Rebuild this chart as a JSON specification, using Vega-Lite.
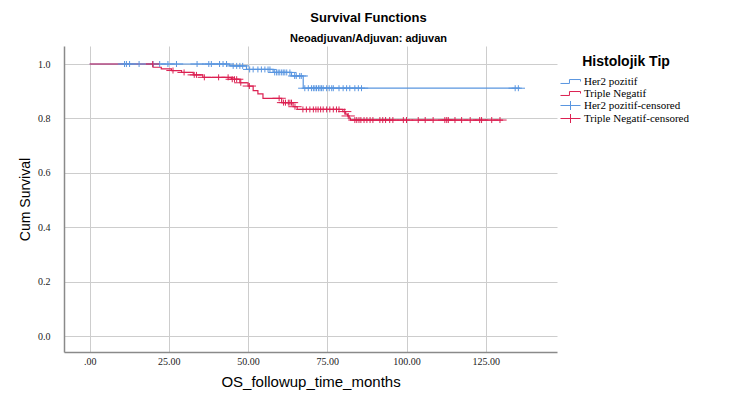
{
  "$schema": "https://vega.github.io/schema/vega-lite/v6.json",
  "width": 493,
  "height": 306,
  "autosize": "none",
  "padding": {"left": 64, "top": 46, "right": 174, "bottom": 51},
  "background": "white",
  "title": {
    "text": "Survival Functions",
    "subtitle": "Neoadjuvan/Adjuvan: adjuvan",
    "anchor": "middle",
    "frame": "group",
    "dx": 58,
    "offset": 2,
    "font": "Liberation Sans",
    "fontSize": 13,
    "fontWeight": "bold",
    "color": "black",
    "subtitleFont": "Liberation Sans",
    "subtitleFontSize": 11,
    "subtitleFontWeight": "bold",
    "subtitleColor": "black",
    "subtitlePadding": 8
  },
  "datasets": {
    "curve": [
      {"grp": "Her2 pozitif", "t": 0, "s": 1.0},
      {"grp": "Her2 pozitif", "t": 44.2, "s": 0.993},
      {"grp": "Her2 pozitif", "t": 49.5, "s": 0.980},
      {"grp": "Her2 pozitif", "t": 57.9, "s": 0.969},
      {"grp": "Her2 pozitif", "t": 63.7, "s": 0.956},
      {"grp": "Her2 pozitif", "t": 67.4, "s": 0.911},
      {"grp": "Her2 pozitif", "t": 135.8, "s": 0.911},
      {"grp": "Triple Negatif", "t": 0, "s": 1.0},
      {"grp": "Triple Negatif", "t": 20.0, "s": 0.988},
      {"grp": "Triple Negatif", "t": 22.6, "s": 0.982},
      {"grp": "Triple Negatif", "t": 25.8, "s": 0.976},
      {"grp": "Triple Negatif", "t": 29.0, "s": 0.969},
      {"grp": "Triple Negatif", "t": 32.7, "s": 0.960},
      {"grp": "Triple Negatif", "t": 35.7, "s": 0.951},
      {"grp": "Triple Negatif", "t": 44.8, "s": 0.944},
      {"grp": "Triple Negatif", "t": 47.4, "s": 0.931},
      {"grp": "Triple Negatif", "t": 50.0, "s": 0.919},
      {"grp": "Triple Negatif", "t": 51.6, "s": 0.902},
      {"grp": "Triple Negatif", "t": 53.1, "s": 0.890},
      {"grp": "Triple Negatif", "t": 54.7, "s": 0.874},
      {"grp": "Triple Negatif", "t": 60.6, "s": 0.858},
      {"grp": "Triple Negatif", "t": 64.2, "s": 0.843},
      {"grp": "Triple Negatif", "t": 65.5, "s": 0.833},
      {"grp": "Triple Negatif", "t": 79.9, "s": 0.825},
      {"grp": "Triple Negatif", "t": 80.8, "s": 0.816},
      {"grp": "Triple Negatif", "t": 81.4, "s": 0.809},
      {"grp": "Triple Negatif", "t": 81.9, "s": 0.801},
      {"grp": "Triple Negatif", "t": 82.3, "s": 0.794},
      {"grp": "Triple Negatif", "t": 130.5, "s": 0.794}
    ],
    "cens": [
      {"grp": "Her2 pozitif-censored", "t": 11.0, "s": 1.0},
      {"grp": "Her2 pozitif-censored", "t": 11.6, "s": 1.0},
      {"grp": "Her2 pozitif-censored", "t": 12.6, "s": 1.0},
      {"grp": "Her2 pozitif-censored", "t": 15.6, "s": 1.0},
      {"grp": "Her2 pozitif-censored", "t": 20.0, "s": 1.0},
      {"grp": "Her2 pozitif-censored", "t": 22.1, "s": 1.0},
      {"grp": "Her2 pozitif-censored", "t": 24.7, "s": 1.0},
      {"grp": "Her2 pozitif-censored", "t": 27.4, "s": 1.0},
      {"grp": "Her2 pozitif-censored", "t": 33.9, "s": 1.0},
      {"grp": "Her2 pozitif-censored", "t": 37.6, "s": 1.0},
      {"grp": "Her2 pozitif-censored", "t": 38.4, "s": 1.0},
      {"grp": "Her2 pozitif-censored", "t": 41.0, "s": 1.0},
      {"grp": "Her2 pozitif-censored", "t": 42.1, "s": 1.0},
      {"grp": "Her2 pozitif-censored", "t": 43.2, "s": 1.0},
      {"grp": "Her2 pozitif-censored", "t": 45.3, "s": 0.993},
      {"grp": "Her2 pozitif-censored", "t": 46.4, "s": 0.993},
      {"grp": "Her2 pozitif-censored", "t": 47.4, "s": 0.993},
      {"grp": "Her2 pozitif-censored", "t": 48.3, "s": 0.993},
      {"grp": "Her2 pozitif-censored", "t": 50.5, "s": 0.980},
      {"grp": "Her2 pozitif-censored", "t": 51.6, "s": 0.980},
      {"grp": "Her2 pozitif-censored", "t": 53.1, "s": 0.980},
      {"grp": "Her2 pozitif-censored", "t": 54.2, "s": 0.980},
      {"grp": "Her2 pozitif-censored", "t": 55.3, "s": 0.980},
      {"grp": "Her2 pozitif-censored", "t": 56.3, "s": 0.980},
      {"grp": "Her2 pozitif-censored", "t": 56.9, "s": 0.980},
      {"grp": "Her2 pozitif-censored", "t": 58.4, "s": 0.969},
      {"grp": "Her2 pozitif-censored", "t": 59.0, "s": 0.969},
      {"grp": "Her2 pozitif-censored", "t": 59.5, "s": 0.969},
      {"grp": "Her2 pozitif-censored", "t": 60.0, "s": 0.969},
      {"grp": "Her2 pozitif-censored", "t": 60.6, "s": 0.969},
      {"grp": "Her2 pozitif-censored", "t": 61.1, "s": 0.969},
      {"grp": "Her2 pozitif-censored", "t": 61.6, "s": 0.969},
      {"grp": "Her2 pozitif-censored", "t": 62.2, "s": 0.969},
      {"grp": "Her2 pozitif-censored", "t": 63.2, "s": 0.969},
      {"grp": "Her2 pozitif-censored", "t": 64.7, "s": 0.956},
      {"grp": "Her2 pozitif-censored", "t": 65.2, "s": 0.956},
      {"grp": "Her2 pozitif-censored", "t": 66.3, "s": 0.956},
      {"grp": "Her2 pozitif-censored", "t": 66.8, "s": 0.956},
      {"grp": "Her2 pozitif-censored", "t": 67.9, "s": 0.911},
      {"grp": "Her2 pozitif-censored", "t": 69.0, "s": 0.911},
      {"grp": "Her2 pozitif-censored", "t": 70.0, "s": 0.911},
      {"grp": "Her2 pozitif-censored", "t": 70.6, "s": 0.911},
      {"grp": "Her2 pozitif-censored", "t": 71.1, "s": 0.911},
      {"grp": "Her2 pozitif-censored", "t": 71.6, "s": 0.911},
      {"grp": "Her2 pozitif-censored", "t": 72.2, "s": 0.911},
      {"grp": "Her2 pozitif-censored", "t": 72.7, "s": 0.911},
      {"grp": "Her2 pozitif-censored", "t": 73.2, "s": 0.911},
      {"grp": "Her2 pozitif-censored", "t": 73.7, "s": 0.911},
      {"grp": "Her2 pozitif-censored", "t": 74.8, "s": 0.911},
      {"grp": "Her2 pozitif-censored", "t": 75.6, "s": 0.911},
      {"grp": "Her2 pozitif-censored", "t": 76.4, "s": 0.911},
      {"grp": "Her2 pozitif-censored", "t": 76.9, "s": 0.911},
      {"grp": "Her2 pozitif-censored", "t": 78.7, "s": 0.911},
      {"grp": "Her2 pozitif-censored", "t": 80.0, "s": 0.911},
      {"grp": "Her2 pozitif-censored", "t": 81.1, "s": 0.911},
      {"grp": "Her2 pozitif-censored", "t": 82.1, "s": 0.911},
      {"grp": "Her2 pozitif-censored", "t": 83.7, "s": 0.911},
      {"grp": "Her2 pozitif-censored", "t": 84.8, "s": 0.911},
      {"grp": "Her2 pozitif-censored", "t": 85.8, "s": 0.911},
      {"grp": "Her2 pozitif-censored", "t": 134.3, "s": 0.911},
      {"grp": "Her2 pozitif-censored", "t": 135.3, "s": 0.911},
      {"grp": "Triple Negatif-censored", "t": 19.9, "s": 1.0},
      {"grp": "Triple Negatif-censored", "t": 26.3, "s": 0.976},
      {"grp": "Triple Negatif-censored", "t": 29.8, "s": 0.969},
      {"grp": "Triple Negatif-censored", "t": 33.0, "s": 0.960},
      {"grp": "Triple Negatif-censored", "t": 33.7, "s": 0.960},
      {"grp": "Triple Negatif-censored", "t": 36.2, "s": 0.951},
      {"grp": "Triple Negatif-censored", "t": 40.7, "s": 0.951},
      {"grp": "Triple Negatif-censored", "t": 43.7, "s": 0.951},
      {"grp": "Triple Negatif-censored", "t": 45.0, "s": 0.944},
      {"grp": "Triple Negatif-censored", "t": 45.7, "s": 0.944},
      {"grp": "Triple Negatif-censored", "t": 46.4, "s": 0.944},
      {"grp": "Triple Negatif-censored", "t": 47.7, "s": 0.931},
      {"grp": "Triple Negatif-censored", "t": 50.4, "s": 0.919},
      {"grp": "Triple Negatif-censored", "t": 59.8, "s": 0.874},
      {"grp": "Triple Negatif-censored", "t": 61.2, "s": 0.858},
      {"grp": "Triple Negatif-censored", "t": 61.8, "s": 0.858},
      {"grp": "Triple Negatif-censored", "t": 62.7, "s": 0.858},
      {"grp": "Triple Negatif-censored", "t": 63.2, "s": 0.858},
      {"grp": "Triple Negatif-censored", "t": 63.7, "s": 0.858},
      {"grp": "Triple Negatif-censored", "t": 64.8, "s": 0.843},
      {"grp": "Triple Negatif-censored", "t": 67.3, "s": 0.833},
      {"grp": "Triple Negatif-censored", "t": 68.4, "s": 0.833},
      {"grp": "Triple Negatif-censored", "t": 69.5, "s": 0.833},
      {"grp": "Triple Negatif-censored", "t": 70.6, "s": 0.833},
      {"grp": "Triple Negatif-censored", "t": 71.4, "s": 0.833},
      {"grp": "Triple Negatif-censored", "t": 72.1, "s": 0.833},
      {"grp": "Triple Negatif-censored", "t": 72.9, "s": 0.833},
      {"grp": "Triple Negatif-censored", "t": 73.7, "s": 0.833},
      {"grp": "Triple Negatif-censored", "t": 74.8, "s": 0.833},
      {"grp": "Triple Negatif-censored", "t": 75.8, "s": 0.833},
      {"grp": "Triple Negatif-censored", "t": 76.9, "s": 0.833},
      {"grp": "Triple Negatif-censored", "t": 77.9, "s": 0.833},
      {"grp": "Triple Negatif-censored", "t": 78.7, "s": 0.833},
      {"grp": "Triple Negatif-censored", "t": 80.5, "s": 0.825},
      {"grp": "Triple Negatif-censored", "t": 81.6, "s": 0.809},
      {"grp": "Triple Negatif-censored", "t": 83.7, "s": 0.794},
      {"grp": "Triple Negatif-censored", "t": 84.3, "s": 0.794},
      {"grp": "Triple Negatif-censored", "t": 85.0, "s": 0.794},
      {"grp": "Triple Negatif-censored", "t": 85.6, "s": 0.794},
      {"grp": "Triple Negatif-censored", "t": 86.6, "s": 0.794},
      {"grp": "Triple Negatif-censored", "t": 87.5, "s": 0.794},
      {"grp": "Triple Negatif-censored", "t": 88.5, "s": 0.794},
      {"grp": "Triple Negatif-censored", "t": 89.4, "s": 0.794},
      {"grp": "Triple Negatif-censored", "t": 91.6, "s": 0.794},
      {"grp": "Triple Negatif-censored", "t": 92.5, "s": 0.794},
      {"grp": "Triple Negatif-censored", "t": 93.4, "s": 0.794},
      {"grp": "Triple Negatif-censored", "t": 94.7, "s": 0.794},
      {"grp": "Triple Negatif-censored", "t": 95.7, "s": 0.794},
      {"grp": "Triple Negatif-censored", "t": 99.0, "s": 0.794},
      {"grp": "Triple Negatif-censored", "t": 100.0, "s": 0.794},
      {"grp": "Triple Negatif-censored", "t": 103.7, "s": 0.794},
      {"grp": "Triple Negatif-censored", "t": 105.9, "s": 0.794},
      {"grp": "Triple Negatif-censored", "t": 108.4, "s": 0.794},
      {"grp": "Triple Negatif-censored", "t": 112.1, "s": 0.794},
      {"grp": "Triple Negatif-censored", "t": 112.7, "s": 0.794},
      {"grp": "Triple Negatif-censored", "t": 113.2, "s": 0.794},
      {"grp": "Triple Negatif-censored", "t": 115.3, "s": 0.794},
      {"grp": "Triple Negatif-censored", "t": 117.4, "s": 0.794},
      {"grp": "Triple Negatif-censored", "t": 120.1, "s": 0.794},
      {"grp": "Triple Negatif-censored", "t": 123.1, "s": 0.794},
      {"grp": "Triple Negatif-censored", "t": 123.7, "s": 0.794},
      {"grp": "Triple Negatif-censored", "t": 126.9, "s": 0.794},
      {"grp": "Triple Negatif-censored", "t": 129.5, "s": 0.794}
    ]
  },
  "encoding": {
    "x": {
      "field": "t",
      "type": "quantitative",
      "scale": {"domain": [-8.1, 147.5], "nice": false, "zero": false},
      "axis": {
        "values": [0, 25, 50, 75, 100, 125],
        "labelExpr": "datum.value == 0 ? '.00' : format(datum.value, '.2f')",
        "title": "OS_followup_time_months",
        "titleFontSize": 15,
        "labelPadding": 4,
        "titlePadding": 8
      }
    },
    "y": {
      "field": "s",
      "type": "quantitative",
      "scale": {"domain": [-0.0588, 1.0662], "nice": false, "zero": false},
      "axis": {
        "values": [0, 0.2, 0.4, 0.6, 0.8, 1.0],
        "format": ".1f",
        "title": "Cum Survival",
        "labelPadding": 14,
        "titlePadding": 5
      }
    },
    "color": {
      "field": "grp",
      "type": "nominal",
      "scale": {
        "domain": ["Her2 pozitif", "Triple Negatif", "Her2 pozitif-censored", "Triple Negatif-censored"],
        "range": ["#5a96e0", "#dc2152", "#5a96e0", "#dc2152"]
      },
      "legend": {
        "title": "Histolojik Tip",
        "orient": "none",
        "legendX": 500,
        "legendY": 9
      }
    }
  },
  "layer": [
    {
      "data": {"name": "curve"},
      "mark": {"type": "line", "interpolate": "step-after", "strokeWidth": 1.2}
    },
    {
      "data": {"name": "cens"},
      "mark": {"type": "point", "filled": false, "size": 64, "strokeWidth": 1, "opacity": 1},
      "encoding": {
        "shape": {
          "field": "grp",
          "type": "nominal",
          "scale": {
            "domain": ["Her2 pozitif", "Triple Negatif", "Her2 pozitif-censored", "Triple Negatif-censored"],
            "range": ["M-1.667,0.33H-0.17V-0.33H1.667V0", "M-1.667,0.33H-0.17V-0.33H1.667V0", "M0,-0.75V0.75M-1.667,0H1.667", "M0,-0.75V0.75M-1.667,0H1.667"]
          },
          "legend": {
            "title": "Histolojik Tip",
            "orient": "none",
            "legendX": 500,
            "legendY": 9
          }
        }
      }
    }
  ],
  "config": {
    "view": {"stroke": null},
    "axis": {
      "ticks": false,
      "domainColor": "#8a8a8a",
      "domainWidth": 1.5,
      "gridColor": "#cdcdcd",
      "gridWidth": 1,
      "labelFont": "Liberation Serif",
      "labelFontSize": 10,
      "labelColor": "#222222",
      "titleFont": "Liberation Sans",
      "titleFontSize": 14,
      "titleFontWeight": "normal",
      "titleColor": "black"
    },
    "legend": {
      "titleFont": "Liberation Sans",
      "titleFontSize": 14,
      "titleFontWeight": "bold",
      "titleColor": "black",
      "titleAnchor": "middle",
      "titlePadding": 6,
      "labelFont": "Liberation Serif",
      "labelFontSize": 11,
      "labelColor": "black",
      "labelOffset": 7,
      "symbolSize": 144,
      "symbolStrokeWidth": 1,
      "rowPadding": 0
    }
  }
}
